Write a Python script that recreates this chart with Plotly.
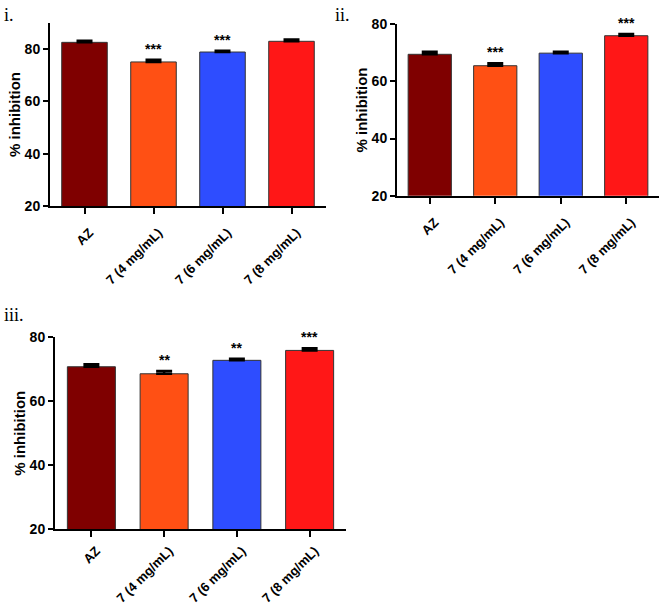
import plotly.graph_objects as go

categories = ["AZ", "7 (4 mg/mL)", "7 (6 mg/mL)", "7 (8 mg/mL)"]
bar_colors = ["#7f0000", "#ff5014", "#2e4dff", "#ff1717"]

values_i = [82.6, 75.1, 78.9, 83.0]
errors_i = [0.6, 0.8, 0.5, 0.7]
stars_i = ["", "***", "***", ""]

values_ii = [69.5, 65.5, 69.9, 76.0]
errors_ii = [0.9, 0.9, 0.5, 0.6]
stars_ii = ["", "***", "", "***"]

values_iii = [70.8, 68.6, 72.8, 75.9]
errors_iii = [0.8, 0.9, 0.5, 0.7]
stars_iii = ["", "**", "**", "***"]

panel_labels = ["i.", "ii.", "iii."]
y_ticks = [20, 40, 60, 80]

W, H = 661, 608

def fx(px):
    return px / W

def fy(py):
    return 1 - py / H

panels = [
    dict(vals=values_i, errs=errors_i, stars=stars_i, xd=[fx(50), fx(326)], yd=[fy(206), fy(23)], yr=[20, 90], so=6),
    dict(vals=values_ii, errs=errors_ii, stars=stars_ii, xd=[fx(397), fx(659)], yd=[fy(195.7), fy(24.3)], yr=[20, 80], so=6),
    dict(vals=values_iii, errs=errors_iii, stars=stars_iii, xd=[fx(55), fx(346)], yd=[fy(529.3), fy(337.3)], yr=[20, 80], so=1),
]

fig = go.Figure()
font_bold = "Liberation Sans, Arial, sans-serif"
annotations = []
layout = {}

for i, p in enumerate(panels):
    n = "" if i == 0 else str(i + 1)
    xa = "x" + n
    ya = "y" + n
    fig.add_trace(go.Bar(
        x=categories, y=p["vals"], xaxis=xa, yaxis=ya,
        marker=dict(color=bar_colors, line=dict(color="#333333", width=1)),
        width=0.66,
        error_y=dict(type="data", array=p["errs"], arrayminus=[0] * 4,
                     color="black", thickness=2.5, width=8),
        showlegend=False, hoverinfo="x+y",
    ))
    layout["xaxis" + n] = dict(
        domain=p["xd"], anchor=ya, range=[-0.5, 3.5], automargin=False,
        showline=True, linecolor="black", linewidth=2,
        ticks="outside", ticklen=6, tickwidth=2, tickcolor="black",
        tickangle=-45, showgrid=False, zeroline=False,
        ticklabelstandoff=p["so"], ticklabelshift=5,
        tickfont=dict(family=font_bold, size=13, color="black", weight="bold"),
    )
    layout["yaxis" + n] = dict(
        domain=p["yd"], anchor=xa, range=p["yr"], automargin=False,
        tickvals=y_ticks, showline=True, linecolor="black", linewidth=2,
        ticks="outside", ticklen=5, tickwidth=2, tickcolor="black",
        showgrid=False, zeroline=False,
        tickfont=dict(family=font_bold, size=14, color="black", weight="bold"),
        title=dict(text="% inhibition", standoff=0,
                   font=dict(family=font_bold, size=15, color="black", weight="bold")),
    )
    for c, v, e, s in zip(categories, p["vals"], p["errs"], p["stars"]):
        if s:
            annotations.append(dict(
                x=c, y=v + e, xref=xa, yref=ya, text=s, showarrow=False,
                yanchor="bottom", yshift=1,
                font=dict(family=font_bold, size=14, color="black", weight="bold"),
            ))

label_pos = [(2, 3), (333, 3), (2, 303)]
for lab, (px, py) in zip(panel_labels, label_pos):
    annotations.append(dict(
        x=fx(px), y=fy(py), xref="paper", yref="paper", text=lab,
        showarrow=False, xanchor="left", yanchor="top",
        font=dict(family="Liberation Serif, Times New Roman, serif", size=18, color="black"),
    ))

fig.update_layout(
    template="none",
    width=W, height=H, margin=dict(l=0, r=0, t=0, b=0, autoexpand=False),
    paper_bgcolor="white", plot_bgcolor="white",
    annotations=annotations, bargap=0.34, **layout,
)

fig.write_html(
    "out.html",
    config={"displayModeBar": False},
    post_script="document.body.style.margin='0';document.body.style.padding='0';document.body.style.overflow='hidden';",
)
